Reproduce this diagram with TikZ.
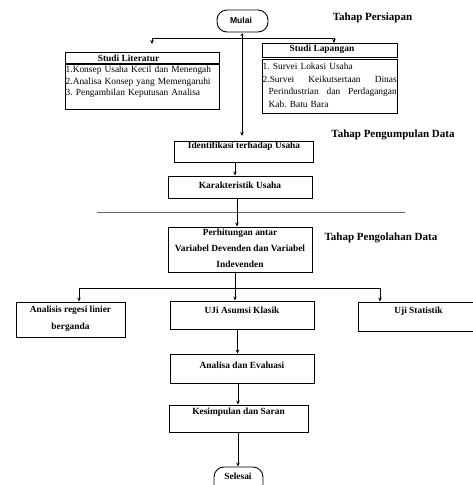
\documentclass[tikz,border=0pt]{standalone}
\usepackage{fontspec}
\setmainfont{Liberation Serif}
\newfontfamily\arialf{Liberation Sans}
\usetikzlibrary{arrows.meta}
\frenchspacing
\begin{document}
\begin{tikzpicture}[x=1pt,y=-1pt,
  box/.style={draw, line width=0.9pt, inner sep=0pt},
  rbox/.style={draw, line width=0.9pt, inner sep=0pt, rounded corners=10pt},
  lbl/.style={font=\fontsize{9.4}{11}\selectfont\bfseries, inner sep=0pt},
  lst/.style={font=\fontsize{9.4}{11.5}\selectfont, inner sep=0pt, align=left},
  tahap/.style={font=\fontsize{11}{13}\selectfont\bfseries, inner sep=0pt},
  arr/.style={line width=0.8pt, -{Stealth[length=4pt,width=3.5pt]}},
  ln/.style={line width=0.8pt}]
\useasboundingbox (0,0) rectangle (473,485);
\clip (0,0) rectangle (473,485);

% start
\node[rbox, minimum width=51, minimum height=22] (mulai) at (242.5,21) {};
\node[font=\arialf\fontsize{8.6}{10}\selectfont\bfseries, inner sep=0pt] (mulait) at (241,20) {Mulai};
\node[tahap] (t1) at (372.5,18) {Tahap Persiapan};

% Studi Literatur
\node[box, minimum width=154, minimum height=57] (lit) at (142,80.5) {};
\draw[line width=1.5pt] (65,64) -- (219,64);
\node[lbl] (litt) at (128.5,58.5) {Studi Literatur};
\node[lst, text width=153, anchor=north west] (litl) at (65.5,66) {1.Konsep Usaha Kecil dan Menengah\\2.Analisa Konsep yang Memengaruhi\\3. Pengambilan Keputusan Analisa};

% Studi Lapangan
\node[box, minimum width=135, minimum height=14] (lap) at (329.5,50) {};
\node[box, minimum width=135, minimum height=54] (lapb) at (329.5,86) {};
\node[lbl] (lapt) at (322,49.5) {Studi Lapangan};
\node[lst, text width=134, anchor=north west, font=\fontsize{9.4}{12.6}\selectfont] (lapl) at (262.5,63) {1. Survei Lokasi Usaha\\2.Survei\hfill Keikutsertaan\hfill Dinas\\\hspace*{6pt}Perindustrian\hfill dan\hfill Perdagangan\\\hspace*{6pt}Kab. Batu Bara};

% branch from top
\coordinate (br) at (242,38);
\coordinate (brL) at (152,44);
\coordinate (brR) at (334,43);
\draw[arr] (br) -| (brL);
\draw[arr] (br) -| (brR);

% Pengumpulan
\node[box, minimum width=139, minimum height=21] (ident) at (243.5,151.5) {};
\node[lbl] (identt) at (244,146.5) {Identifikasi terhadap Usaha};
\node[tahap] (t2) at (393,135) {Tahap Pengumpulan Data};
\coordinate (vtop) at (242,33);
\coordinate (vbot) at (242,136);
\draw[line width=0.8pt, {Stealth[length=3pt,width=3pt]}-{Stealth[length=4pt,width=3.5pt]}] (vtop) -- (vbot);

\node[box, minimum width=144, minimum height=22] (karak) at (240,187) {};
\node[lbl] (karakt) at (240,185) {Karakteristik Usaha};
\coordinate (xa) at (235,0);
\draw[arr] (ident.south -| xa) -- (karak.north -| xa);

% separator
\draw[line width=0.9pt, black!60] (97,212) -- (405,212);

% Pengolahan
\node[box, minimum width=144, minimum height=45] (perh) at (240,249.5) {};
\node[lbl, align=center, font=\fontsize{9.4}{16}\selectfont\bfseries] (perht) at (240,248.5) {Perhitungan antar\\Variabel Devenden dan Variabel\\Indevenden};
\node[tahap] (t3) at (381,238) {Tahap Pengolahan Data};
\coordinate (xb) at (237,0);
\draw[arr] (karak.south -| xb) -- (perh.north -| xb);

\node[box, minimum width=109, minimum height=35] (anl) at (70.5,319.5) {};
\node[lbl, align=center, font=\fontsize{9.4}{17}\selectfont\bfseries] (anlt) at (70.5,318.5) {Analisis regesi linier\\berganda};
\node[box, minimum width=144, minimum height=28] (uji) at (242,315) {};
\node[lbl] (ujit) at (242,310.5) {UJi Asumsi Klasik};
\node[box, minimum width=122, minimum height=29] (ujis) at (419,316.5) {};
\node[lbl] (ujist) at (418.5,311) {Uji Statistik};

\coordinate (J) at (235,288);
\coordinate (JL) at (79,288);
\coordinate (JR) at (380,288);
\draw[ln] (perh.south -| J) -- (J);
\draw[ln] (JL) -- (JR);
\draw[arr] (JL) -- (anl.north -| JL);
\draw[arr] (J) -- (uji.north -| J);
\draw[arr] (JR) -- (ujis.north -| JR);

\node[box, minimum width=144, minimum height=29] (anev) at (242,368.5) {};
\node[lbl] (anevt) at (242,365) {Analisa dan Evaluasi};
\coordinate (xc) at (237.5,0);
\draw[arr] (uji.south -| xc) -- (anev.north -| xc);

\node[box, minimum width=139, minimum height=27] (kes) at (238.5,418.5) {};
\node[lbl] (kest) at (238.5,412) {Kesimpulan dan Saran};
\coordinate (xd) at (238,0);
\draw[arr] (anev.south -| xd) -- (kes.north -| xd);

\node[rbox, minimum width=49, minimum height=30] (sel) at (238.5,482) {};
\node[lbl] (selt) at (238,476) {Selesai};
\draw[arr] (kes.south -| xd) -- (sel.north -| xd);
\end{tikzpicture}
\end{document}
